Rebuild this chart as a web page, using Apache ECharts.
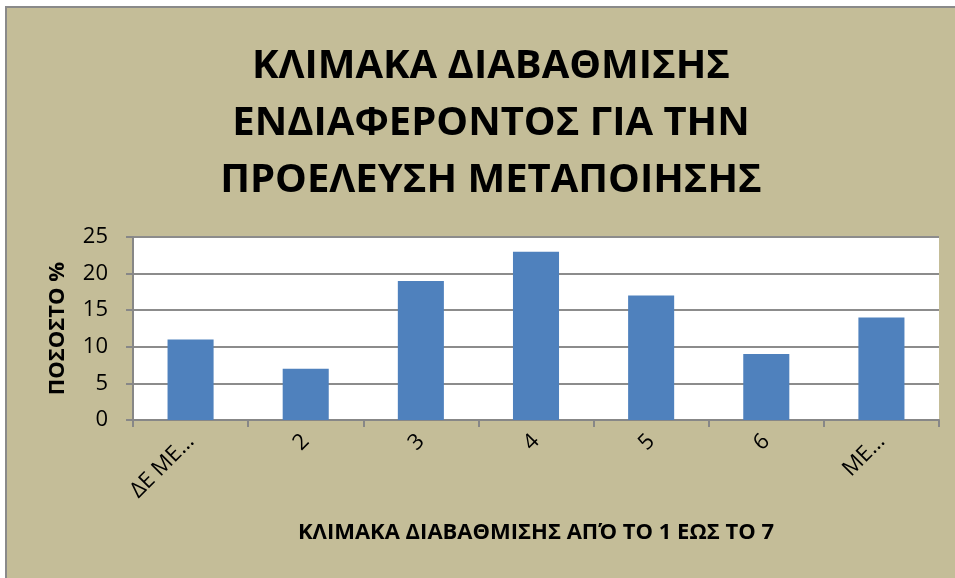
<!DOCTYPE html>
<html>
<head>
<meta charset="utf-8">
<script src="https://cdn.jsdelivr.net/npm/echarts@6/dist/echarts.min.js"></script>
<style>
  html, body { margin: 0; padding: 0; background: #ffffff; }
  #chart { width: 955px; height: 578px; }
</style>
</head>
<body>
<div id="chart"></div>
<script>
// Rating scale categories (1 to 7) and percentage of responses
const categories = ['ΔΕ ΜΕ…', '2', '3', '4', '5', '6', 'ΜΕ…'];
const percentages = [11, 7, 19, 23, 17, 9, 14];
const yTicks = [0, 5, 10, 15, 20, 25];

const titleLines = ['ΚΛΙΜΑΚΑ ΔΙΑΒΑΘΜΙΣΗΣ', 'ΕΝΔΙΑΦΕΡΟΝΤΟΣ ΓΙΑ ΤΗΝ', 'ΠΡΟΕΛΕΥΣΗ ΜΕΤΑΠΟΙΗΣΗΣ'];
const xAxisTitle = 'ΚΛΙΜΑΚΑ ΔΙΑΒΑΘΜΙΣΗΣ ΑΠΌ ΤΟ 1 ΕΩΣ ΤΟ 7';
const yAxisTitle = 'ΠΟΣΟΣΤΟ %';

const FONT = '"Open Sans", "Noto Sans", sans-serif';
const chart = echarts.init(document.getElementById('chart'));

chart.setOption({
  backgroundColor: '#ffffff',
  animation: false,
  graphic: [
    {
      type: 'rect',
      z: -10,
      shape: { x: 6, y: 7, width: 960, height: 580 },
      style: { fill: '#c4bd98', stroke: '#8a8a8a', lineWidth: 2 }
    }
  ],
  title: {
    text: titleLines.join('\n'),
    left: 486,
    top: 33,
    textAlign: 'center',
    textStyle: {
      fontFamily: FONT,
      fontWeight: 'bold',
      fontSize: 40,
      lineHeight: 57,
      color: '#000000'
    }
  },
  grid: {
    left: 133,
    right: 16,
    top: 237,
    bottom: 158,
    show: true,
    backgroundColor: '#ffffff',
    borderWidth: 0
  },
  xAxis: {
    type: 'category',
    data: categories,
    name: xAxisTitle,
    nameLocation: 'middle',
    nameGap: 102,
    nameTextStyle: { fontFamily: FONT, fontWeight: 'bold', fontSize: 22, color: '#000000' },
    axisLine: { lineStyle: { color: '#878787', width: 2 } },
    axisTick: { show: true, length: 7, lineStyle: { color: '#878787', width: 2 } },
    axisLabel: {
      rotate: 45,
      margin: 18,
      fontFamily: FONT,
      fontSize: 22,
      color: '#000000',
      interval: 0
    }
  },
  yAxis: {
    type: 'value',
    min: yTicks[0],
    max: yTicks[yTicks.length - 1],
    interval: yTicks[1] - yTicks[0],
    name: yAxisTitle,
    nameLocation: 'middle',
    nameGap: 64,
    nameTextStyle: { fontFamily: FONT, fontWeight: 'bold', fontSize: 22, color: '#000000' },
    axisLine: { show: true, lineStyle: { color: '#878787', width: 2 } },
    axisTick: { show: true, length: 7, lineStyle: { color: '#878787', width: 2 } },
    axisLabel: { fontFamily: FONT, fontSize: 22, color: '#000000', margin: 25 },
    splitLine: { lineStyle: { color: '#8c8c8c', width: 2 } }
  },
  series: [
    {
      type: 'bar',
      data: percentages,
      barWidth: '40%',
      itemStyle: { color: '#4f81bd' }
    }
  ]
});
</script>
</body>
</html>
